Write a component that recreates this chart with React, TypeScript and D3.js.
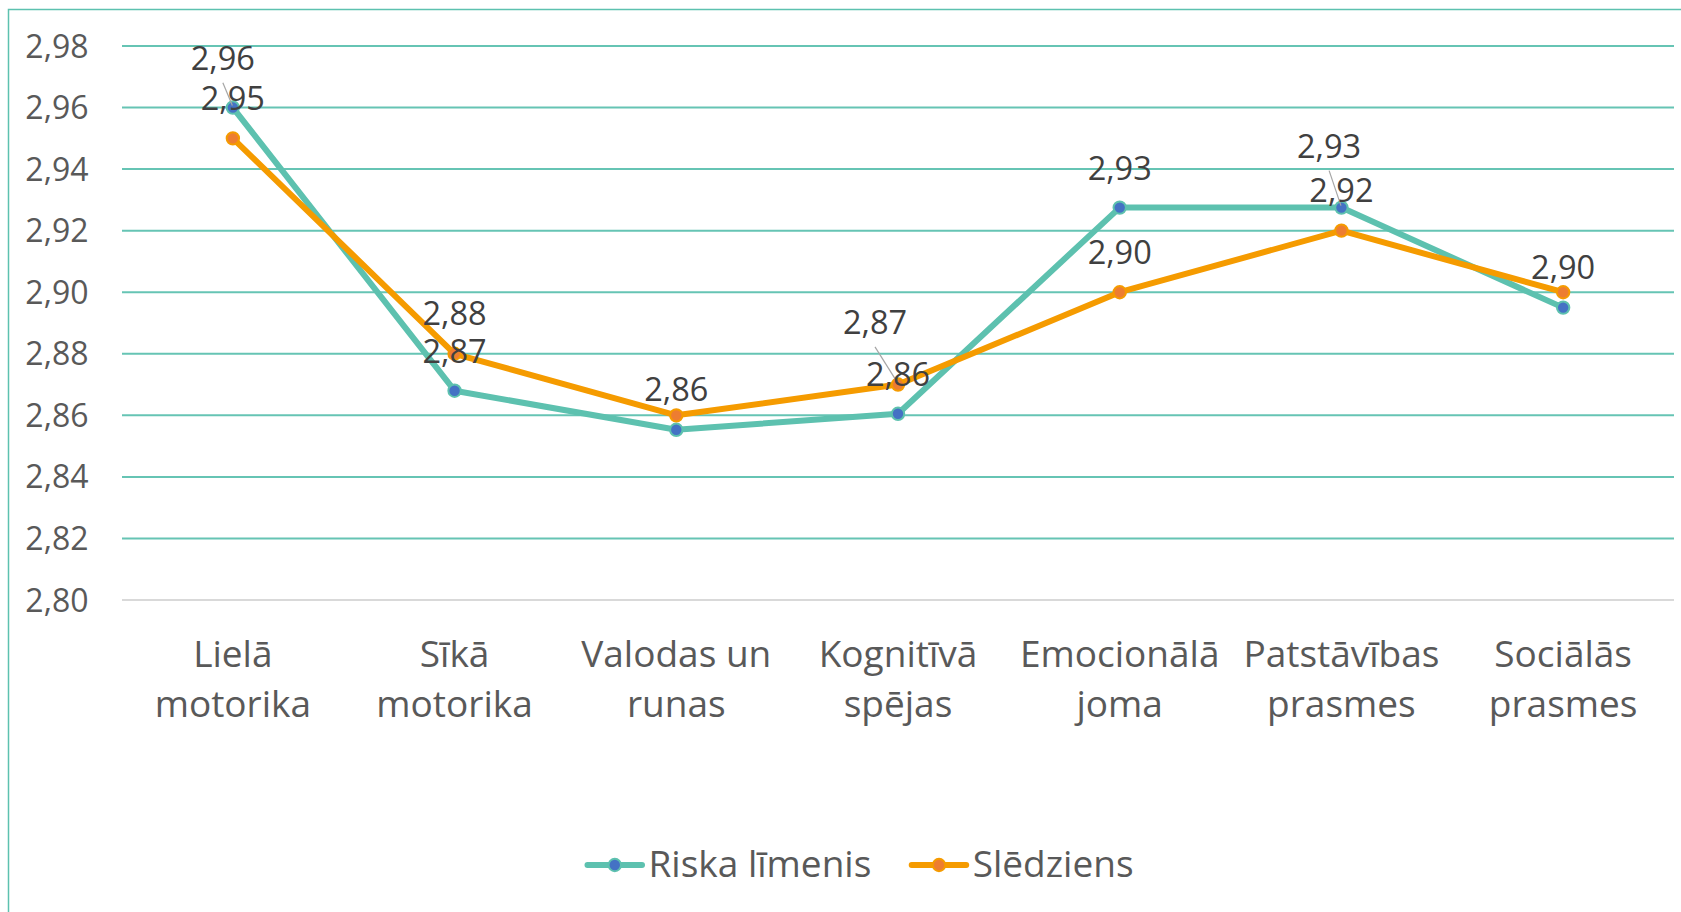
import React from "react";
import * as d3 from "d3";

const categories: string[][] = [
  ["Lielā", "motorika"],
  ["Sīkā", "motorika"],
  ["Valodas un", "runas"],
  ["Kognitīvā", "spējas"],
  ["Emocionālā", "joma"],
  ["Patstāvības", "prasmes"],
  ["Sociālās", "prasmes"],
];
const riskaValues = [2.96, 2.868, 2.8553, 2.8605, 2.9275, 2.9275, 2.895];
const sledziensValues = [2.95, 2.88, 2.86, 2.87, 2.9, 2.92, 2.9];
const yTicks = [2.8, 2.82, 2.84, 2.86, 2.88, 2.9, 2.92, 2.94, 2.96, 2.98];
const seriesNames = ["Riska līmenis", "Slēdziens"];

// label layout (style): series, index, dx, dy (baseline rel. to point), leader
const labelLayout = [
  { s: 0, i: 0, dx: -10, dy: -37.7, leader: true },
  { s: 1, i: 0, dx: 0, dy: -28.5, leader: false },
  { s: 1, i: 1, dx: 0, dy: -28.4, leader: false },
  { s: 0, i: 1, dx: 0, dy: -27.7, leader: false },
  { s: 1, i: 2, dx: 0, dy: -14.1, leader: false },
  { s: 1, i: 3, dx: -23, dy: -50.7, leader: true },
  { s: 0, i: 3, dx: 0, dy: -27.7, leader: false },
  { s: 0, i: 4, dx: 0, dy: -27.4, leader: false },
  { s: 1, i: 4, dx: 0, dy: -28.3, leader: false },
  { s: 0, i: 5, dx: -12.3, dy: -50, leader: true },
  { s: 1, i: 5, dx: 0, dy: -28.3, leader: false },
  { s: 1, i: 6, dx: 0, dy: -13, leader: false },
];

const TEAL = "#5dc1af";
const GRID = "#66c4b4";
const ORANGE = "#f59b00";
const BLUE = "#4472c4";
const ORANGE_FILL = "#ed7d31";
const FONT = "'Open Sans', sans-serif";

export default function App() {
  const W = 1681;
  const H = 912;
  const x = d3
    .scalePoint<number>()
    .domain(categories.map((_, i) => i))
    .range([122, 1674])
    .padding(0.5);
  const y = d3.scaleLinear().domain([2.8, 2.98]).range([600, 46]);
  const line = d3
    .line<number>()
    .x((_, i) => x(i) as number)
    .y((d) => y(d));
  const fmt = (v: number) => d3.format(".2f")(v).replace(".", ",");
  const series = [riskaValues, sledziensValues];
  const lineColors = [TEAL, ORANGE];
  const markerFill = [BLUE, ORANGE_FILL];

  return (
    <svg
      width={W}
      height={H}
      style={{ position: "absolute", left: 0, top: 0, background: "#fff" }}
      fontFamily={FONT}
    >
      <rect x={0} y={0} width={W} height={H} fill="#fff" />
      <rect x={8.5} y={9.5} width={W + 20} height={H + 20} fill="none" stroke={TEAL} strokeWidth={1.5} />
      {yTicks.map((t, k) => (
        <g key={k}>
          <line
            x1={122}
            x2={1674}
            y1={y(t)}
            y2={y(t)}
            stroke={k === 0 ? "#d9d9d9" : GRID}
            strokeWidth={2}
          />
          <text x={88.5} y={y(t) + 11.5} textAnchor="end" fontSize={32} fill="#595959">
            {fmt(t)}
          </text>
        </g>
      ))}
      {categories.map((c, i) => (
        <text key={i} textAnchor="middle" fontSize={37} fill="#595959">
          <tspan x={x(i)} y={666.7}>{c[0]}</tspan>
          <tspan x={x(i)} y={716.7}>{c[1]}</tspan>
        </text>
      ))}
      {series.map((vals, s) => (
        <path key={s} d={line(vals) as string} fill="none" stroke={lineColors[s]} strokeWidth={6} strokeLinejoin="round" />
      ))}
      {series.map((vals, s) =>
        vals.map((v, i) => (
          <circle key={`${s}-${i}`} cx={x(i)} cy={y(v)} r={6.2} fill={markerFill[s]} stroke={lineColors[s]} strokeWidth={2} />
        ))
      )}
      {labelLayout.map((l, k) => {
        const px = x(l.i) as number;
        const py = y(series[l.s][l.i]);
        const lx = px + l.dx;
        const ly = py + l.dy;
        return (
          <g key={k}>
            {l.leader && (
              <line x1={lx} y1={ly + 13} x2={px - 0.5} y2={py - 2} stroke="#a6a6a6" strokeWidth={1.2} />
            )}
            <text x={lx} y={ly} textAnchor="middle" fontSize={32.5} fill="#404040">
              {fmt(series[l.s][l.i])}
            </text>
          </g>
        );
      })}
      {seriesNames.map((n, s) => {
        const x0 = s === 0 ? 587.5 : 911.7;
        return (
          <g key={s}>
            <line x1={x0} x2={x0 + 54.5} y1={865} y2={865} stroke={lineColors[s]} strokeWidth={6} strokeLinecap="round" />
            <circle cx={x0 + 27.3} cy={865} r={6.2} fill={markerFill[s]} stroke={lineColors[s]} strokeWidth={2} />
            <text x={x0 + 61} y={877} fontSize={37} fill="#595959">
              {n}
            </text>
          </g>
        );
      })}
    </svg>
  );
}
